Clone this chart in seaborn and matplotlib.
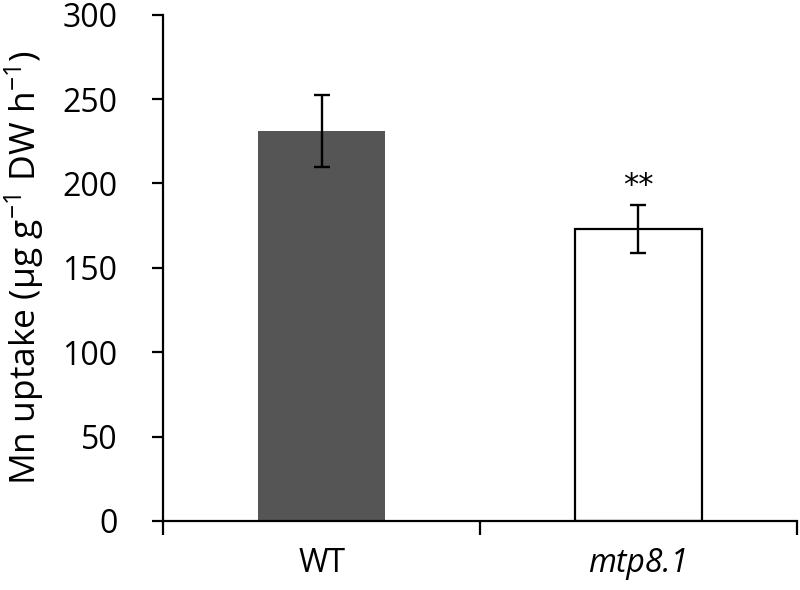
import matplotlib
matplotlib.use("Agg")
import matplotlib.pyplot as plt
import seaborn as sns
import pandas as pd

genotypes = ["WT", "mtp8.1"]
uptake = [231, 173]
uptake_sd = [21.3, 14.3]
bar_colors = ["#555555", "#ffffff"]
y_ticks = [0, 50, 100, 150, 200, 250, 300]
significance = ["", "**"]

sns.set_theme(style="white")
plt.rcParams["font.family"] = ["Open Sans", "DejaVu Sans"]
plt.rcParams["mathtext.default"] = "regular"
plt.rcParams["text.color"] = "black"
plt.rcParams["axes.labelcolor"] = "black"
plt.rcParams["xtick.color"] = "black"
plt.rcParams["ytick.color"] = "black"

df = pd.DataFrame({"genotype": genotypes, "uptake": uptake})

fig = plt.figure(figsize=(8, 5.9), dpi=100)
ax = fig.add_axes([0.204, 0.117, 0.792, 0.858])

sns.barplot(data=df, x="genotype", y="uptake", hue="genotype",
            palette=bar_colors, width=0.4, errorbar=None, legend=False,
            edgecolor="black", linewidth=0, ax=ax)
for patch, col in zip(ax.patches, bar_colors):
    if col == "#ffffff":
        patch.set_edgecolor("black")
        patch.set_linewidth(1.6)
    else:
        patch.set_linewidth(0)

ax.errorbar(x=list(range(len(genotypes))), y=uptake, yerr=uptake_sd,
            fmt="none", ecolor="black", elinewidth=1.7, capsize=5.5,
            capthick=1.7, zorder=5)

for i, s in enumerate(significance):
    if s:
        ax.text(i, uptake[i] + uptake_sd[i] + 3, s, ha="center", va="bottom",
                fontsize=22, family="DejaVu Sans", color="black")

ax.set_ylim(0, 300)
ax.set_xlim(-0.5, 1.5)
ax.set_yticks(y_ticks)
ax.set_yticklabels([str(t) for t in y_ticks], fontsize=23)

ax.set_xticks([-0.5, 0.5, 1.5], minor=False)
ax.set_xticklabels([])
ax.set_xticks([0, 1], minor=True)
ax.set_xticklabels(genotypes, minor=True, fontsize=23)
for lab in ax.get_xticklabels(minor=True):
    if lab.get_text() != "WT":
        lab.set_style("italic")
ax.tick_params(axis="x", which="minor", length=0, pad=19)
ax.tick_params(axis="x", which="major", direction="out", length=10, width=1.6, color="black", bottom=True)
ax.tick_params(axis="y", direction="out", length=8, width=1.6, color="black", left=True, pad=25)

ax.set_xlabel("")
ax.set_ylabel("Mn uptake (µg g$^{-1}$ DW h$^{-1}$)", fontsize=25.5, labelpad=12)

for sp in ["top", "right"]:
    ax.spines[sp].set_visible(False)
for sp in ["left", "bottom"]:
    ax.spines[sp].set_color("black")
    ax.spines[sp].set_linewidth(1.6)

fig.savefig("out.png", dpi=100)
